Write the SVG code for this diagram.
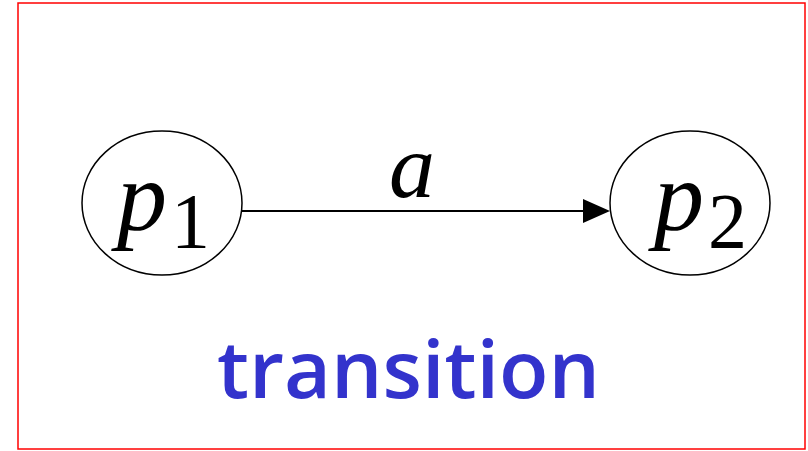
<svg xmlns="http://www.w3.org/2000/svg" width="808" height="451" viewBox="0 0 808 451">
<style>
.node ellipse{fill:#fff;stroke:#000;stroke-width:1.5}
.math{font-family:"Liberation Serif","Times New Roman",serif;fill:#000}
.it{font-style:italic}
</style>
<rect x="0" y="0" width="808" height="451" fill="#fff"/>
<rect x="18" y="3" width="787" height="446" fill="none" stroke="#ff0000" stroke-width="1.5"/>
<g id="connectors">
<line x1="242" y1="211" x2="585" y2="211" stroke="#000" stroke-width="2"/>
<path d="M583,199 L610,211 L583,223 z" fill="#000"/>
<text class="math it" x="389" y="197" font-size="92">a</text>
</g>
<g id="p1" class="node">
<ellipse cx="162" cy="203" rx="80" ry="72"/>
<text class="math" x="117" y="230"><tspan class="it" font-size="100">p</tspan><tspan font-size="78" y="247" dx="4">1</tspan></text>
</g>
<g id="p2" class="node">
<ellipse cx="690" cy="203" rx="80" ry="72"/>
<text class="math" x="654" y="230"><tspan class="it" font-size="100">p</tspan><tspan font-size="78" y="247" dx="4">2</tspan></text>
</g>
<text x="217" y="398" font-family="'Comic Sans MS','Open Sans','Noto Sans',sans-serif" font-weight="600" font-size="80" fill="#3333cc" textLength="383" lengthAdjust="spacingAndGlyphs">transition</text>
</svg>
